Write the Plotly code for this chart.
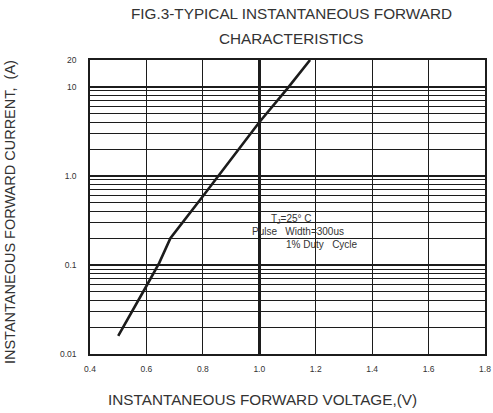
import plotly.graph_objects as go
import numpy as np

# Curve data
voltage = [0.50, 0.55, 0.60, 0.645, 0.685, 0.80, 0.90, 1.00, 1.10, 1.18]
current = [0.016, 0.030, 0.058, 0.105, 0.20, 0.59, 1.55, 4.0, 9.6, 20.0]

x_ticks = [0.4, 0.6, 0.8, 1.0, 1.2, 1.4, 1.6, 1.8]
x_labels = ["0.4", "0.6", "0.8", "1.0", "1.2", "1.4", "1.6", "1.8"]
y_major = [0.01, 0.1, 1, 10, 20]
y_labels = ["0.01", "0.1", "1.0", "10", "20"]
y_minor = [m * d for d in (0.01, 0.1, 1) for m in (2, 3, 4, 5, 6, 7, 8, 9)]

title_lines = ["FIG.3-TYPICAL INSTANTANEOUS FORWARD", "CHARACTERISTICS"]
x_title = "INSTANTANEOUS FORWARD VOLTAGE,(V)"
y_title = "INSTANTANEOUS FORWARD CURRENT,&nbsp;&nbsp;(A)"
note_lines = ["T<sub>J</sub>=25° C", "Pulse&nbsp;&nbsp;&nbsp;Width=300us", "1% Duty&nbsp;&nbsp;&nbsp;Cycle"]

FONT = "Liberation Sans, Arial, sans-serif"
INK = "#1c1c1c"
TXT = "#333333"

fig = go.Figure()
fig.add_trace(go.Scatter(x=voltage, y=current, mode="lines",
                         line=dict(color=INK, width=2.6), showlegend=False,
                         hoverinfo="skip"))

fig.update_layout(
    width=493, height=413,
    margin=dict(l=90, r=2, t=60, b=59),
    paper_bgcolor="white", plot_bgcolor="white",
    font=dict(family=FONT, color=TXT),
    showlegend=False,
)

fig.update_xaxes(
    range=[0.4, 1.8], tickmode="array", tickvals=x_ticks, ticktext=x_labels,
    showgrid=True, gridcolor=INK, gridwidth=1.3,
    showline=True, linecolor=INK, linewidth=1.6, mirror=True,
    ticks="", tickfont=dict(size=8.5, color=TXT), ticklabelstandoff=6,
    ticklabeloverflow="allow",
    zeroline=False,
    minor=dict(tickmode="array", tickvals=[1.0], showgrid=True,
               gridcolor=INK, gridwidth=2.6, ticks=""),
)
fig.update_yaxes(
    type="log", range=[np.log10(0.01), np.log10(20)],
    tickmode="array", tickvals=y_major, ticktext=y_labels,
    showgrid=True, gridcolor=INK, gridwidth=1.6,
    showline=True, linecolor=INK, linewidth=1.6, mirror=True,
    ticks="", tickfont=dict(size=8.5, color=TXT), ticklabelstandoff=10,
    zeroline=False,
    minor=dict(tickmode="array", tickvals=y_minor, showgrid=True,
               gridcolor=INK, gridwidth=1.1, ticks=""),
)

# White legend box in the plot
fig.add_shape(type="rect", xref="paper", yref="paper",
              x0=0.331, x1=0.741, y0=0.332, y1=0.511,
              fillcolor="white", line=dict(width=0), layer="between")

for txt, xp, yp in zip(note_lines, [0.509, 0.526, 0.587], [0.46, 0.4156, 0.371]):
    fig.add_annotation(text=txt, xref="paper", yref="paper", x=xp, y=yp,
                       showarrow=False, xanchor="center", yanchor="middle",
                       font=dict(size=10, family=FONT, color=TXT))

for txt, yp in zip(title_lines, [1.158, 1.073]):
    fig.add_annotation(text=txt, xref="paper", yref="paper", x=0.509, y=yp,
                       showarrow=False, xanchor="center", yanchor="middle",
                       font=dict(size=15.3, family=FONT, color=TXT))

fig.add_annotation(text=x_title, xref="paper", yref="paper", x=0.436, y=-0.155,
                   showarrow=False, xanchor="center", yanchor="middle",
                   font=dict(size=15.3, family=FONT, color=TXT))
fig.add_annotation(text=y_title, xref="paper", yref="paper", x=-0.202, y=0.4835,
                   showarrow=False, xanchor="center", yanchor="middle", textangle=-90,
                   font=dict(size=14.5, family=FONT, color=TXT))

fig.write_html("out.html", config={"displayModeBar": False},
               post_script="document.body.style.margin='0';")
